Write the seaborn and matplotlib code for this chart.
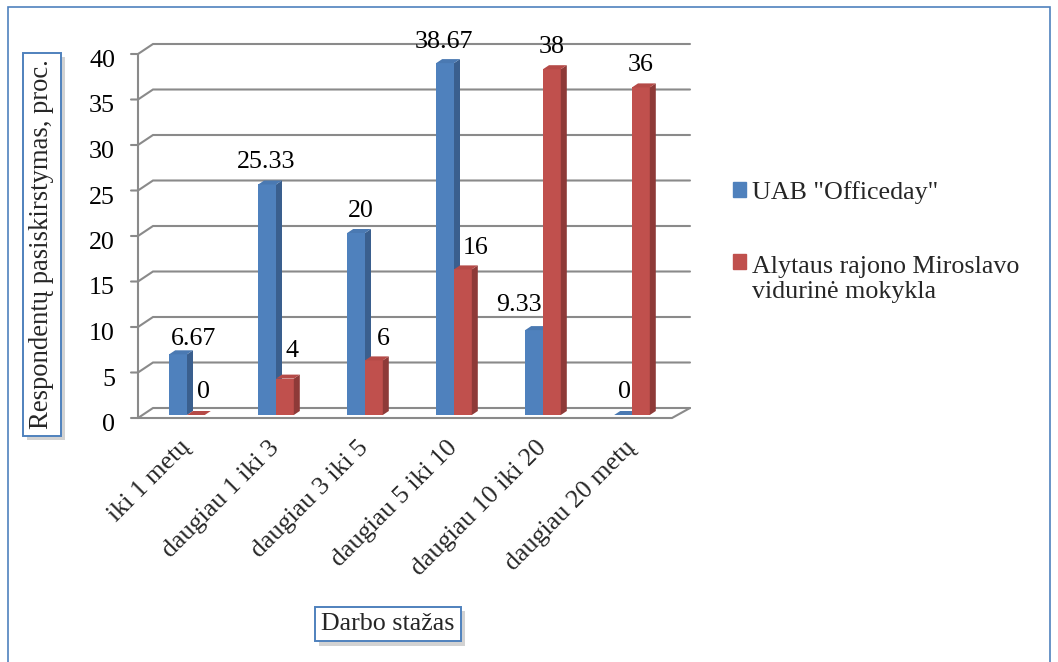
import matplotlib
matplotlib.use("Agg")
import numpy as np
import pandas as pd
import matplotlib.pyplot as plt
import seaborn as sns
import matplotlib.patheffects as pe
from matplotlib.lines import Line2D
from matplotlib.patches import Polygon, Patch, Rectangle
from matplotlib.transforms import IdentityTransform
from matplotlib.legend_handler import HandlerPatch

# ---- data -------------------------------------------------------------
categories = ["iki 1 metų", "daugiau 1 iki 3", "daugiau 3 iki 5",
              "daugiau 5 iki 10", "daugiau 10 iki 20", "daugiau 20 metų"]
series_names = ['UAB "Officeday"', "Alytaus rajono Miroslavo\nvidurinė mokykla"]
officeday = [6.67, 25.33, 20, 38.67, 9.33, 0]
miroslavo = [0, 4, 6, 16, 38, 36]
y_ticks = [0, 5, 10, 15, 20, 25, 30, 35, 40]
y_title = "Respondentų pasiskirstymas, proc."
x_title = "Darbo stažas"

df = pd.DataFrame({
    "category": categories * 2,
    "value": officeday + miroslavo,
    "series": [series_names[0]] * len(categories) + [series_names[1]] * len(categories),
})

# ---- style ------------------------------------------------------------
W, H, DPI = 1058, 662, 100
sns.set_theme(style="white")
plt.rcParams["font.family"] = ["Liberation Serif", "DejaVu Serif"]
FS = 18.7

BLUE, RED = "#4F81BD", "#C0504D"
SIDE = {0: "#3A5F8E", 1: "#8E3A38"}
TOP = {0: "#4A79B2", 1: "#B54A47"}
GRID = "#8A8A8A"
DEPTH = (6, 4)            # bar depth in pixels (x, y)
FRONT = (-4.5, -3)        # front edge of the floor relative to the bar plane
BACK = (10.5, 7)          # back wall relative to the bar plane

fig = plt.figure(figsize=(W / DPI, H / DPI), dpi=DPI)
fig.patch.set_facecolor("white")


def px_rect(left, top, right, bottom):
    return [left / W, 1 - bottom / H, (right - left) / W, (bottom - top) / H]


ax = fig.add_axes(px_rect(142.5, 51, 676.5, 415))
ax.patch.set_visible(False)

sns.barplot(data=df, x="category", y="value", hue="series",
            palette=[BLUE, RED], width=0.4, saturation=1, linewidth=0,
            legend=False, ax=ax)
ax.set_xlim(-0.5, len(categories) - 0.5)
ax.set_ylim(0, 40)
for s in ax.spines.values():
    s.set_visible(False)

to_px = ax.transData.transform
ident = IdentityTransform()

# ---- 3D walls: gridlines, floor, front axis ---------------------------
x_left_px = to_px((-0.5, 0))[0]
x_right_px = to_px((len(categories) - 0.5, 0))[0]
for v in y_ticks:
    py = to_px((-0.5, v))[1]
    fx, fy = x_left_px + FRONT[0], py + FRONT[1]
    bx, by = x_left_px + BACK[0], py + BACK[1]
    ax.add_line(Line2D([fx - 7, fx, bx, x_right_px + BACK[0] + 3],
                       [fy, fy, by, by], transform=ident, color=GRID,
                       lw=1.5, clip_on=False, zorder=0.5,
                       solid_joinstyle="miter"))
    ax.text(115, fy - 13, f"{v:g}", transform=ident, ha="right",
            va="baseline", fontsize=FS, color="black")

y0 = to_px((0, 0))[1]
y40 = to_px((0, 40))[1]
# front vertical axis
ax.add_line(Line2D([x_left_px + FRONT[0]] * 2, [y0 + FRONT[1], y40 + FRONT[1]],
                   transform=ident, color=GRID, lw=1.5, clip_on=False, zorder=0.5))
# floor outline
floor_x = [x_left_px + FRONT[0], x_right_px + FRONT[0], x_right_px + BACK[0] + 3]
floor_y = [y0 + FRONT[1], y0 + FRONT[1], y0 + BACK[1]]
ax.add_line(Line2D(floor_x, floor_y, transform=ident, color=GRID, lw=1.5,
                   clip_on=False, zorder=0.5, solid_joinstyle="miter"))

# ---- 3D bars: side and top faces --------------------------------------
dx, dy = DEPTH
for h, container in enumerate(ax.containers):
    for bar in container:
        bar.set_zorder(3 + h)
        (x0, yb), (x1, yt) = ax.transData.transform(
            [(bar.get_x(), 0), (bar.get_x() + bar.get_width(), bar.get_height())])
        side = Polygon([(x1, yb), (x1, yt), (x1 + dx, yt + dy), (x1 + dx, yb + dy)],
                       closed=True, transform=ident, fc=SIDE[h], ec="none",
                       clip_on=False, zorder=3 + h + 0.1)
        top = Polygon([(x0, yt), (x1, yt), (x1 + dx, yt + dy), (x0 + dx, yt + dy)],
                      closed=True, transform=ident, fc=TOP[h], ec="none",
                      clip_on=False, zorder=3 + h + 0.2)
        ax.add_patch(side)
        ax.add_patch(top)

# ---- value labels -----------------------------------------------------
label_shift = {
    0: [(15, 9), (-0.5, 16.5), (5, 16), (-1, 15), (-15, 19), (1, 17)],
    1: [(8, 17), (7, 22), (9, 15), (13, 15), (0, 16), (0, 16)],
}
for h, (container, values) in enumerate(zip(ax.containers, [officeday, miroslavo])):
    for i, (bar, val) in enumerate(zip(container, values)):
        ox, oy = label_shift[h][i]
        ax.annotate(f"{val:g}", xy=(bar.get_x() + bar.get_width() / 2, val),
                    xytext=(ox, oy), textcoords="offset pixels",
                    ha="center", va="baseline", fontsize=FS, color="black",
                    zorder=10, annotation_clip=False)

# ---- ticks ------------------------------------------------------------
ax.set_yticks([])
ax.set_xticks(range(len(categories)))
ax.set_xticklabels(categories, rotation=45, ha="right", va="center",
                   rotation_mode="anchor", fontsize=FS)
ax.tick_params(axis="x", length=0, pad=21)

# ---- axis titles in framed boxes --------------------------------------
shadow = [pe.SimplePatchShadow(offset=(3, -3), shadow_rgbFace="#7f7f7f", alpha=0.35),
          pe.Normal()]
ax.set_ylabel(y_title, fontsize=19.2, va="center", ha="center",
              bbox=dict(boxstyle="square,pad=0.24", fc="white", ec=BLUE, lw=1.4))
ax.yaxis.set_label_coords((42 - 142.5) / 534, (415 - 244.5) / 364)
ax.yaxis.label.get_bbox_patch().set_path_effects(shadow)
ax.set_xlabel(x_title, fontsize=FS, va="center", ha="center",
              bbox=dict(boxstyle="square,pad=0.25", fc="white", ec=BLUE, lw=1.4))
ax.xaxis.set_label_coords((388 - 142.5) / 534, (415 - 624) / 364)
ax.xaxis.label.get_bbox_patch().set_path_effects(shadow)


# ---- legend -----------------------------------------------------------
class FirstLineHandler(HandlerPatch):
    """Puts the colour key beside the first line of a two-line label."""

    def __init__(self, lift, **kw):
        super().__init__(**kw)
        self.lift = lift

    def create_artists(self, *args, **kwargs):
        artists = super().create_artists(*args, **kwargs)
        for a in artists:
            a.set_y(a.get_y() + self.lift)
        return artists


LINESPACING = 1.18
handles = [Patch(color=BLUE), Patch(color=RED)]
leg = ax.legend(handles, series_names, loc="upper left",
                bbox_to_anchor=(733 / W, 1 - 181 / H),
                bbox_transform=fig.transFigure, frameon=False, fontsize=FS,
                handlelength=0.5, handleheight=0.5, handletextpad=0.25,
                labelspacing=2.0, borderpad=0, borderaxespad=0,
                handler_map={handles[1]: FirstLineHandler(17 * 72 / DPI)})
for t in leg.get_texts():
    t.set_linespacing(LINESPACING)

# ---- outer frame ------------------------------------------------------
fig.add_artist(Rectangle((8 / W, -0.05), (1050 - 8) / W, 1.05 - 7 / H,
                         transform=fig.transFigure, fill=False, ec=BLUE,
                         lw=1.2, zorder=0))

fig.savefig("out.png", dpi=DPI)
